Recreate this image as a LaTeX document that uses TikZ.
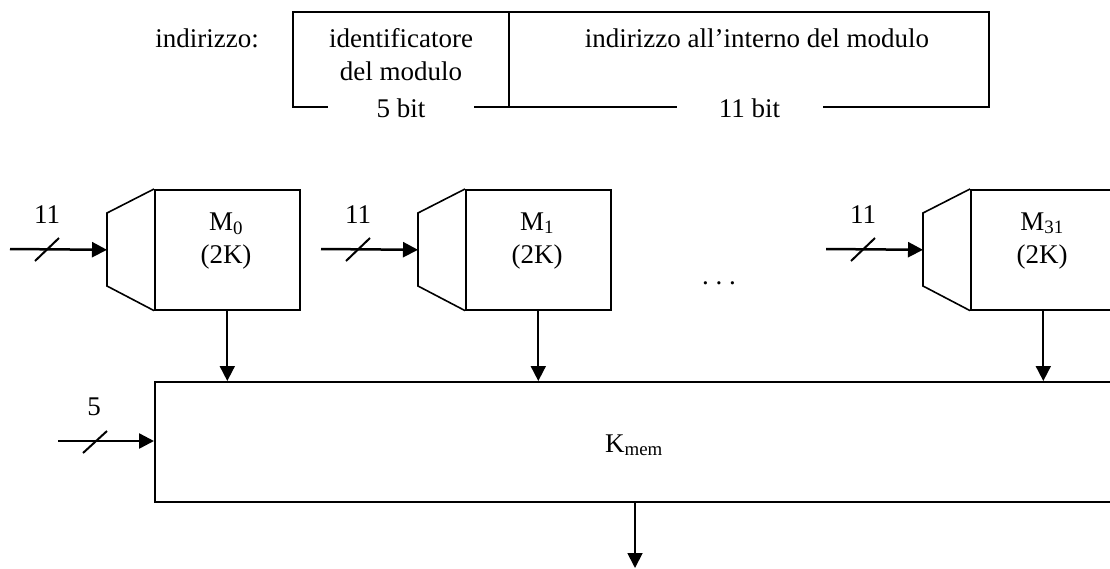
\documentclass[tikz,border=0pt]{standalone}
\usepackage{fontspec}
\setmainfont{Liberation Serif}
\usetikzlibrary{arrows.meta}
\begin{document}
\begin{tikzpicture}[x=1pt,y=-1pt,
  txt/.style={font=\fontsize{27}{33}\selectfont, inner sep=0pt, anchor=base},
  frame/.style={line width=1.6pt},
  membox/.style={draw, line width=1.6pt, minimum width=145pt, minimum height=120pt,
    anchor=north west, inner sep=0pt},
  bus/.style={line width=2.5pt, -{Triangle[length=15pt,width=15pt]}},
  arr/.style={line width=1.8pt, -{Triangle[length=15pt,width=15pt]}},
  slashline/.style={line width=2pt},
  gap/.style={txt, fill=white, minimum width=146pt, inner ysep=3pt}]
\path[use as bounding box] (0,0) rectangle (1110,568);
\clip (0,0) rectangle (1110,568);

% address format
\node[txt] (addr) at (207,47) {indirizzo:};
\draw[frame] (293,12) rectangle (989,107);
\draw[frame] (509,12) -- (509,107);
\node[txt] (id1) at (401,47) {identificatore};
\node[txt] (id2) at (401,80) {del modulo};
\node[txt] (off) at (757,47) {indirizzo all’interno del modulo};
\node[gap] (b5) at (401,117) {5 bit};
\node[gap] (b11) at (749.5,117) {11 bit};

% memory modules with their address decoders
\foreach \dx/\s in {0/0,311/1,816/31}{
  \node[membox] (m\s) at (154+\dx,189) {};
  \coordinate (t\s) at ([xshift=-47pt]m\s.west);
  \draw[frame] (m\s.north west) -- ++(-47,24) -- ++(0,73) -- (m\s.south west);
  \node[txt] (ml\s) at (226+\dx,230) {M\textsubscript{\s}};
  \node[txt] (mk\s) at (226+\dx,263) {(2K)};
  \coordinate (in\s) at (10+\dx,249);
  \draw[bus] (in\s) -- (t\s);
  \draw[slashline] ([xshift=25pt,yshift=-12pt]in\s) -- ++(24,-23);
  \node[txt] (w\s) at (47+\dx,223) {11};
}
\node[txt] (dots) at (719,284) {.\ .\ .};

% memory controller
\node[draw, line width=1.6pt, anchor=north west, minimum width=990pt,
  minimum height=120pt, inner sep=0pt] (kmem) at (154,381) {};
\node[txt] (kl) at (634,452) {K\textsubscript{mem}};
\foreach \s in {0,1,31}{
  \draw[arr] (m\s.south) -- (m\s.south |- kmem.north);
}
\coordinate (in5) at (58,441);
\draw[bus] (in5) -- (in5 -| kmem.west);
\draw[slashline] ([xshift=25pt,yshift=-12pt]in5) -- ++(24,-22);
\node[txt] (w5) at (94,415) {5};
\coordinate (out) at (635,568);
\draw[arr] (kmem.south -| out) -- (out);
\end{tikzpicture}
\end{document}
